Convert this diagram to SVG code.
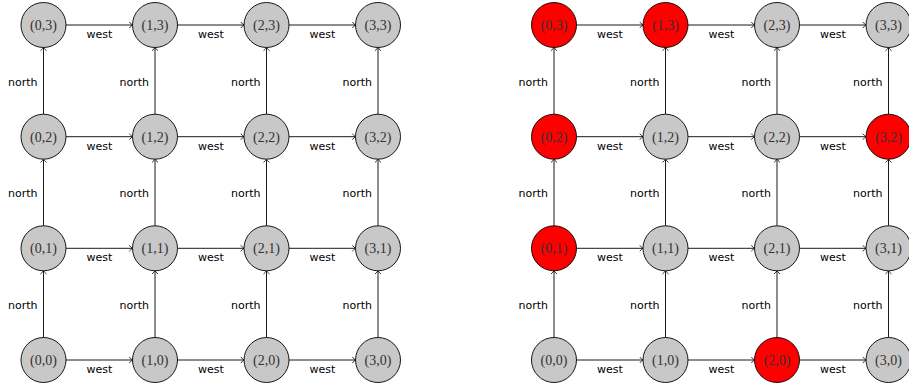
<svg xmlns="http://www.w3.org/2000/svg" width="909" height="387" viewBox="0 0 909 387">
<style>
.n circle{stroke:#000;stroke-width:0.9}
.g circle{fill:#c8c8c8}
.r circle{fill:#ff0000}
.n text{font-family:"Liberation Serif",serif;font-size:14px;fill:#333;text-anchor:middle}
.e line{stroke:#000;stroke-width:0.9;marker-end:url(#a)}
.lbl{font-family:"DejaVu Sans",sans-serif;font-size:11px;fill:#000}
.w{text-anchor:middle}
.no{text-anchor:end}
</style>
<defs>
<marker id="a" markerUnits="userSpaceOnUse" markerWidth="10" markerHeight="10" viewBox="-5 -5 10 10" refX="0" refY="0" orient="auto">
<path d="M-3.2,-3 Q-1.2,-0.6 0,0 Q-1.2,0.6 -3.2,3" fill="none" stroke="#000" stroke-width="0.8"/>
</marker>
</defs>
<g id="connectors" class="e">
<!-- left grid horizontal: rows y=25,136.7,248.3,360 ; cols 43.5,155,266.5,378 -->
<line x1="66" y1="25" x2="132.5" y2="25"/><line x1="177.5" y1="25" x2="244" y2="25"/><line x1="289" y1="25" x2="355.5" y2="25"/>
<line x1="66" y1="136.7" x2="132.5" y2="136.7"/><line x1="177.5" y1="136.7" x2="244" y2="136.7"/><line x1="289" y1="136.7" x2="355.5" y2="136.7"/>
<line x1="66" y1="248.3" x2="132.5" y2="248.3"/><line x1="177.5" y1="248.3" x2="244" y2="248.3"/><line x1="289" y1="248.3" x2="355.5" y2="248.3"/>
<line x1="66" y1="360" x2="132.5" y2="360"/><line x1="177.5" y1="360" x2="244" y2="360"/><line x1="289" y1="360" x2="355.5" y2="360"/>
<!-- left grid vertical -->
<line x1="43.5" y1="337.5" x2="43.5" y2="270.8"/><line x1="43.5" y1="225.8" x2="43.5" y2="159.2"/><line x1="43.5" y1="114.2" x2="43.5" y2="47.5"/>
<line x1="155" y1="337.5" x2="155" y2="270.8"/><line x1="155" y1="225.8" x2="155" y2="159.2"/><line x1="155" y1="114.2" x2="155" y2="47.5"/>
<line x1="266.5" y1="337.5" x2="266.5" y2="270.8"/><line x1="266.5" y1="225.8" x2="266.5" y2="159.2"/><line x1="266.5" y1="114.2" x2="266.5" y2="47.5"/>
<line x1="378" y1="337.5" x2="378" y2="270.8"/><line x1="378" y1="225.8" x2="378" y2="159.2"/><line x1="378" y1="114.2" x2="378" y2="47.5"/>
<!-- right grid horizontal: cols 554,665.5,777,888.5 -->
<line x1="576.5" y1="25" x2="643" y2="25"/><line x1="688" y1="25" x2="754.5" y2="25"/><line x1="799.5" y1="25" x2="866" y2="25"/>
<line x1="576.5" y1="136.7" x2="643" y2="136.7"/><line x1="688" y1="136.7" x2="754.5" y2="136.7"/><line x1="799.5" y1="136.7" x2="866" y2="136.7"/>
<line x1="576.5" y1="248.3" x2="643" y2="248.3"/><line x1="688" y1="248.3" x2="754.5" y2="248.3"/><line x1="799.5" y1="248.3" x2="866" y2="248.3"/>
<line x1="576.5" y1="360" x2="643" y2="360"/><line x1="688" y1="360" x2="754.5" y2="360"/><line x1="799.5" y1="360" x2="866" y2="360"/>
<!-- right grid vertical -->
<line x1="554" y1="337.5" x2="554" y2="270.8"/><line x1="554" y1="225.8" x2="554" y2="159.2"/><line x1="554" y1="114.2" x2="554" y2="47.5"/>
<line x1="665.5" y1="337.5" x2="665.5" y2="270.8"/><line x1="665.5" y1="225.8" x2="665.5" y2="159.2"/><line x1="665.5" y1="114.2" x2="665.5" y2="47.5"/>
<line x1="777" y1="337.5" x2="777" y2="270.8"/><line x1="777" y1="225.8" x2="777" y2="159.2"/><line x1="777" y1="114.2" x2="777" y2="47.5"/>
<line x1="888.5" y1="337.5" x2="888.5" y2="270.8"/><line x1="888.5" y1="225.8" x2="888.5" y2="159.2"/><line x1="888.5" y1="114.2" x2="888.5" y2="47.5"/>
</g>
<g id="labels" class="lbl">
<g class="w">
<text x="99.3" y="38">west</text><text x="210.8" y="38">west</text><text x="322.3" y="38">west</text>
<text x="99.3" y="149.7">west</text><text x="210.8" y="149.7">west</text><text x="322.3" y="149.7">west</text>
<text x="99.3" y="261.3">west</text><text x="210.8" y="261.3">west</text><text x="322.3" y="261.3">west</text>
<text x="99.3" y="373">west</text><text x="210.8" y="373">west</text><text x="322.3" y="373">west</text>
<text x="609.8" y="38">west</text><text x="721.3" y="38">west</text><text x="832.8" y="38">west</text>
<text x="609.8" y="149.7">west</text><text x="721.3" y="149.7">west</text><text x="832.8" y="149.7">west</text>
<text x="609.8" y="261.3">west</text><text x="721.3" y="261.3">west</text><text x="832.8" y="261.3">west</text>
<text x="609.8" y="373">west</text><text x="721.3" y="373">west</text><text x="832.8" y="373">west</text>
</g>
<g class="no">
<text x="37.5" y="85.5">north</text><text x="149" y="85.5">north</text><text x="260.5" y="85.5">north</text><text x="372" y="85.5">north</text>
<text x="37.5" y="197.2">north</text><text x="149" y="197.2">north</text><text x="260.5" y="197.2">north</text><text x="372" y="197.2">north</text>
<text x="37.5" y="308.8">north</text><text x="149" y="308.8">north</text><text x="260.5" y="308.8">north</text><text x="372" y="308.8">north</text>
<text x="548" y="85.5">north</text><text x="659.5" y="85.5">north</text><text x="771" y="85.5">north</text><text x="882.5" y="85.5">north</text>
<text x="548" y="197.2">north</text><text x="659.5" y="197.2">north</text><text x="771" y="197.2">north</text><text x="882.5" y="197.2">north</text>
<text x="548" y="308.8">north</text><text x="659.5" y="308.8">north</text><text x="771" y="308.8">north</text><text x="882.5" y="308.8">north</text>
</g>
</g>
<!-- left grid nodes -->
<g id="L00" class="n g"><circle cx="43.5" cy="360" r="22.5"/><text x="43.5" y="365">(0,0)</text></g>
<g id="L10" class="n g"><circle cx="155" cy="360" r="22.5"/><text x="155" y="365">(1,0)</text></g>
<g id="L20" class="n g"><circle cx="266.5" cy="360" r="22.5"/><text x="266.5" y="365">(2,0)</text></g>
<g id="L30" class="n g"><circle cx="378" cy="360" r="22.5"/><text x="378" y="365">(3,0)</text></g>
<g id="L01" class="n g"><circle cx="43.5" cy="248.3" r="22.5"/><text x="43.5" y="253.3">(0,1)</text></g>
<g id="L11" class="n g"><circle cx="155" cy="248.3" r="22.5"/><text x="155" y="253.3">(1,1)</text></g>
<g id="L21" class="n g"><circle cx="266.5" cy="248.3" r="22.5"/><text x="266.5" y="253.3">(2,1)</text></g>
<g id="L31" class="n g"><circle cx="378" cy="248.3" r="22.5"/><text x="378" y="253.3">(3,1)</text></g>
<g id="L02" class="n g"><circle cx="43.5" cy="136.7" r="22.5"/><text x="43.5" y="141.7">(0,2)</text></g>
<g id="L12" class="n g"><circle cx="155" cy="136.7" r="22.5"/><text x="155" y="141.7">(1,2)</text></g>
<g id="L22" class="n g"><circle cx="266.5" cy="136.7" r="22.5"/><text x="266.5" y="141.7">(2,2)</text></g>
<g id="L32" class="n g"><circle cx="378" cy="136.7" r="22.5"/><text x="378" y="141.7">(3,2)</text></g>
<g id="L03" class="n g"><circle cx="43.5" cy="25" r="22.5"/><text x="43.5" y="30">(0,3)</text></g>
<g id="L13" class="n g"><circle cx="155" cy="25" r="22.5"/><text x="155" y="30">(1,3)</text></g>
<g id="L23" class="n g"><circle cx="266.5" cy="25" r="22.5"/><text x="266.5" y="30">(2,3)</text></g>
<g id="L33" class="n g"><circle cx="378" cy="25" r="22.5"/><text x="378" y="30">(3,3)</text></g>
<!-- right grid nodes -->
<g id="R00" class="n g"><circle cx="554" cy="360" r="22.5"/><text x="554" y="365">(0,0)</text></g>
<g id="R10" class="n g"><circle cx="665.5" cy="360" r="22.5"/><text x="665.5" y="365">(1,0)</text></g>
<g id="R20" class="n r"><circle cx="777" cy="360" r="22.5"/><text x="777" y="365">(2,0)</text></g>
<g id="R30" class="n g"><circle cx="888.5" cy="360" r="22.5"/><text x="888.5" y="365">(3,0)</text></g>
<g id="R01" class="n r"><circle cx="554" cy="248.3" r="22.5"/><text x="554" y="253.3">(0,1)</text></g>
<g id="R11" class="n g"><circle cx="665.5" cy="248.3" r="22.5"/><text x="665.5" y="253.3">(1,1)</text></g>
<g id="R21" class="n g"><circle cx="777" cy="248.3" r="22.5"/><text x="777" y="253.3">(2,1)</text></g>
<g id="R31" class="n g"><circle cx="888.5" cy="248.3" r="22.5"/><text x="888.5" y="253.3">(3,1)</text></g>
<g id="R02" class="n r"><circle cx="554" cy="136.7" r="22.5"/><text x="554" y="141.7">(0,2)</text></g>
<g id="R12" class="n g"><circle cx="665.5" cy="136.7" r="22.5"/><text x="665.5" y="141.7">(1,2)</text></g>
<g id="R22" class="n g"><circle cx="777" cy="136.7" r="22.5"/><text x="777" y="141.7">(2,2)</text></g>
<g id="R32" class="n r"><circle cx="888.5" cy="136.7" r="22.5"/><text x="888.5" y="141.7">(3,2)</text></g>
<g id="R03" class="n r"><circle cx="554" cy="25" r="22.5"/><text x="554" y="30">(0,3)</text></g>
<g id="R13" class="n r"><circle cx="665.5" cy="25" r="22.5"/><text x="665.5" y="30">(1,3)</text></g>
<g id="R23" class="n g"><circle cx="777" cy="25" r="22.5"/><text x="777" y="30">(2,3)</text></g>
<g id="R33" class="n g"><circle cx="888.5" cy="25" r="22.5"/><text x="888.5" y="30">(3,3)</text></g>
</svg>
